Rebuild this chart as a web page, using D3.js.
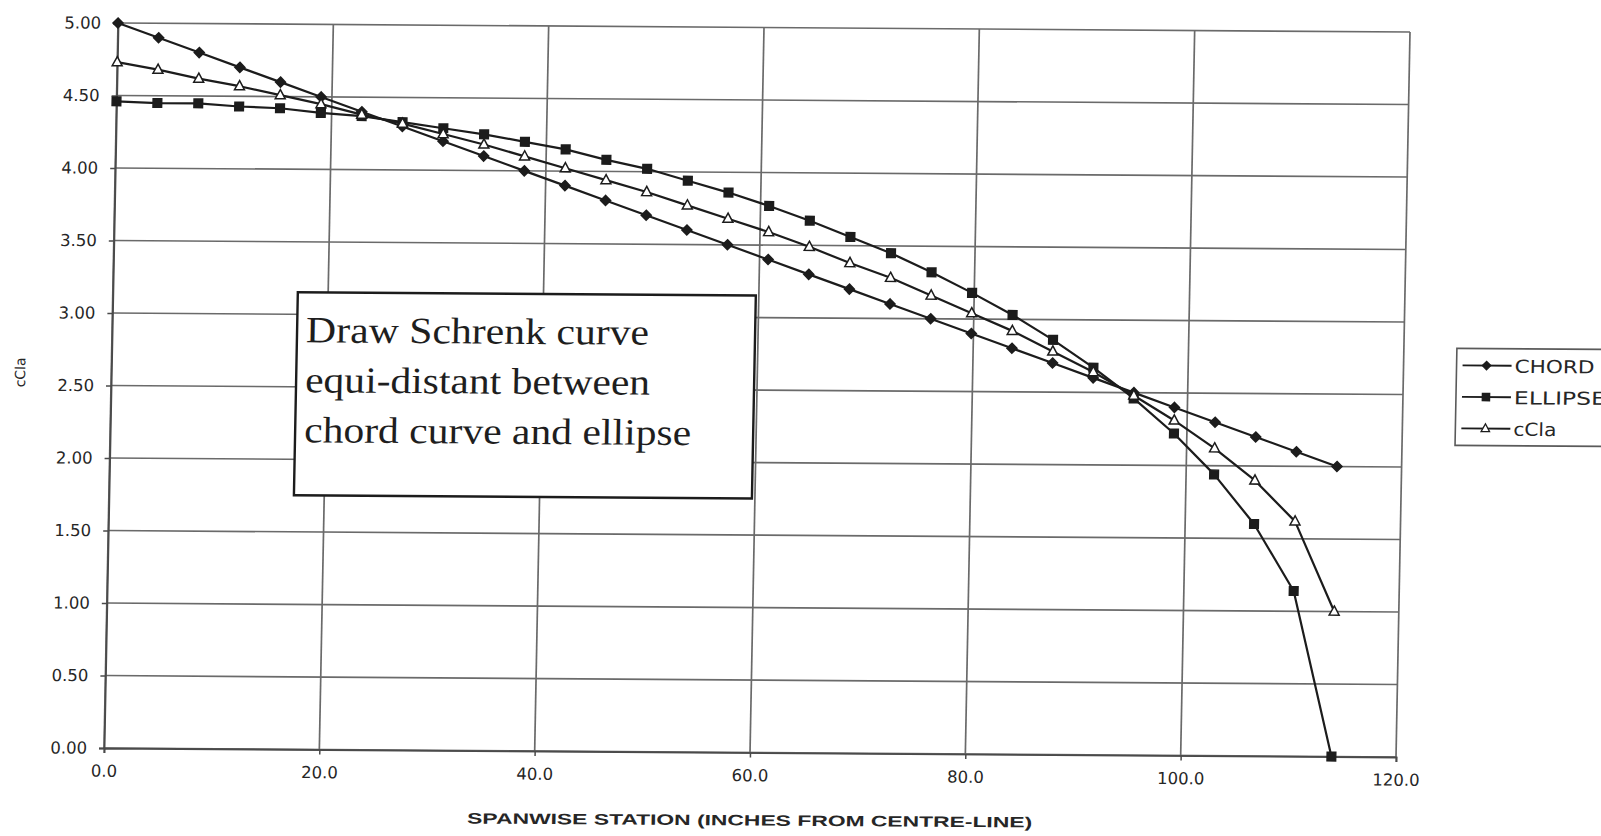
<!DOCTYPE html>
<html>
<head>
<meta charset="utf-8">
<script src="https://cdn.jsdelivr.net/npm/d3@7"></script>
<style>
  html, body { margin: 0; padding: 0; background: #fff; overflow: hidden; }
  svg { display: block; }
</style>
</head>
<body>
<svg id="chart" width="1601" height="836"></svg>
<script>
// Spanwise stations (inches from centre-line)
const stations = [0.0, 3.8, 7.6, 11.4, 15.2, 19.0, 22.8, 26.6, 30.4, 34.2, 38.0, 41.8, 45.6, 49.4, 53.2,
                  57.0, 60.8, 64.6, 68.4, 72.2, 76.0, 79.8, 83.6, 87.4, 91.2, 95.0, 98.8, 102.6, 106.4, 110.2, 114.0];
// Chord distribution
const chord = [5.00, 4.90, 4.80, 4.70, 4.60, 4.50, 4.40, 4.30, 4.20, 4.10, 4.00, 3.90, 3.80, 3.70, 3.60,
               3.50, 3.40, 3.30, 3.20, 3.10, 3.00, 2.90, 2.80, 2.70, 2.60, 2.50, 2.40, 2.30, 2.20, 2.10, 2.00];
// Elliptical distribution of equal area
const ellipse = [4.46, 4.45, 4.45, 4.43, 4.42, 4.39, 4.37, 4.33, 4.29, 4.25, 4.20, 4.15, 4.08, 4.02, 3.94,
                 3.86, 3.77, 3.67, 3.56, 3.45, 3.32, 3.18, 3.03, 2.86, 2.67, 2.46, 2.22, 1.94, 1.60, 1.14, 0.00];
// Schrenk cCla curve
const ccla = [4.73, 4.68, 4.62, 4.57, 4.51, 4.45, 4.38, 4.32, 4.25, 4.18, 4.10, 4.02, 3.94, 3.86, 3.77,
              3.68, 3.59, 3.49, 3.38, 3.28, 3.16, 3.04, 2.92, 2.78, 2.64, 2.48, 2.31, 2.12, 1.90, 1.62, 1.00];

const seriesNames = ["CHORD", "ELLIPSE", "cCla"];
const xTicks = [0, 20, 40, 60, 80, 100, 120];
const yTicks = [0, 0.5, 1.0, 1.5, 2.0, 2.5, 3.0, 3.5, 4.0, 4.5, 5.0];
const xTitle = "SPANWISE STATION (INCHES FROM CENTRE-LINE)";
const yTitle = "cCla";
const noteLines = ["Draw Schrenk curve", "equi-distant between", "chord curve and ellipse"];

const W = 1292, H = 725;
const ink = "#1c1c1c";
const gridColor = "#6a6a6a";

const svg = d3.select("#chart");
svg.append("rect").attr("width", 1601).attr("height", 836).attr("fill", "#fff");

// the sheet sits slightly askew
const g = svg.append("g").attr("transform", "matrix(1,0.00697,-0.0193,1,118,23)");

const x = d3.scaleLinear().domain([0, 120]).range([0, W]);
const y = d3.scaleLinear().domain([0, 5]).range([H, 0]);

// grid
g.append("g").selectAll("line").data(yTicks).join("line")
  .attr("x1", 0).attr("x2", W)
  .attr("y1", d => y(d)).attr("y2", d => y(d))
  .attr("stroke", gridColor).attr("stroke-width", 1.7);
g.append("g").selectAll("line").data(xTicks).join("line")
  .attr("x1", d => x(d)).attr("x2", d => x(d))
  .attr("y1", 0).attr("y2", H)
  .attr("stroke", gridColor).attr("stroke-width", 1.7);

// axes
const yAxis = g.append("g")
  .call(d3.axisLeft(y).tickValues(yTicks).tickFormat(d3.format(".2f")).tickSize(5).tickPadding(12));
const xAxis = g.append("g").attr("transform", `translate(0,${H})`)
  .call(d3.axisBottom(x).tickValues(xTicks).tickFormat(d3.format(".1f")).tickSize(5).tickPadding(12));
[yAxis, xAxis].forEach(a => {
  a.select(".domain").attr("stroke", "#4a4a4a").attr("stroke-width", 1.9);
  a.selectAll(".tick line").attr("stroke", "#4a4a4a").attr("stroke-width", 1.5);
  a.selectAll(".tick text")
    .attr("fill", "#262626")
    .style("font-family", "'DejaVu Sans', sans-serif")
    .style("font-size", "16.5px");
});

// axis titles
g.append("text")
  .attr("x", 647).attr("y", 798)
  .attr("text-anchor", "middle")
  .attr("textLength", 565).attr("lengthAdjust", "spacingAndGlyphs")
  .attr("fill", "#262626")
  .style("font-family", "'Liberation Sans', Arial, sans-serif")
  .style("font-weight", "bold")
  .style("font-size", "15px")
  .text(xTitle);

g.append("text")
  .attr("transform", "translate(-86,350) rotate(-90)")
  .attr("text-anchor", "middle")
  .attr("fill", "#262626")
  .style("font-family", "'DejaVu Sans', sans-serif")
  .style("font-size", "14px")
  .text(yTitle);

// series
const data = [chord, ellipse, ccla].map(vals => stations.map((s, i) => ({ x: s, v: vals[i] })));
const line = d3.line().x(d => x(d.x)).y(d => y(d.v));

const markers = [
  { path: "M0,-5L5,0L0,5L-5,0Z", fill: ink },
  { path: "M-4.3,-4.3H4.3V4.3H-4.3Z", fill: ink },
  { path: "M0,-5.6L5,3.6H-5Z", fill: "#fff" }
];

data.forEach((pts, k) => {
  const sg = g.append("g");
  sg.append("path").datum(pts)
    .attr("d", line)
    .attr("fill", "none")
    .attr("stroke", ink)
    .attr("stroke-width", 2.2)
    .attr("stroke-linejoin", "round");
  sg.selectAll("path.mk").data(pts).join("path")
    .attr("class", "mk")
    .attr("d", markers[k].path)
    .attr("transform", d => `translate(${x(d.x)},${y(d.v)})`)
    .attr("fill", markers[k].fill)
    .attr("stroke", ink)
    .attr("stroke-width", 1.5);
});

// note box
const note = g.append("g");
note.append("rect")
  .attr("x", 185).attr("y", 268).attr("width", 458).attr("height", 203)
  .attr("fill", "#fff").attr("stroke", ink).attr("stroke-width", 2.4);
const noteWidths = [343, 345, 387];
note.selectAll("text").data(noteLines).join("text")
  .attr("x", 194)
  .attr("y", (d, i) => 318 + i * 50)
  .attr("textLength", (d, i) => noteWidths[i])
  .attr("lengthAdjust", "spacingAndGlyphs")
  .attr("fill", "#1e1e1e")
  .style("font-family", "'Liberation Serif', 'Times New Roman', serif")
  .style("font-size", "37px")
  .text(d => d);

// legend
const legend = g.append("g").attr("transform", "translate(1345,316)");
legend.append("rect")
  .attr("x", 0).attr("y", 0).attr("width", 260).attr("height", 97)
  .attr("fill", "#fff").attr("stroke", "#5a5a5a").attr("stroke-width", 1.6);
const legendWidths = [80, 92, 43];
seriesNames.forEach((name, k) => {
  const ly = 17 + k * 31.5;
  const row = legend.append("g").attr("transform", `translate(0,${ly})`);
  row.append("line").attr("x1", 6).attr("x2", 55).attr("y1", 0).attr("y2", 0)
    .attr("stroke", ink).attr("stroke-width", 1.8);
  row.append("path").attr("d", markers[k].path)
    .attr("transform", "translate(30,0) scale(0.85)")
    .attr("fill", markers[k].fill).attr("stroke", ink).attr("stroke-width", 1.5);
  row.append("text")
    .attr("x", 58).attr("y", 7)
    .attr("textLength", legendWidths[k]).attr("lengthAdjust", "spacingAndGlyphs")
    .attr("fill", "#262626")
    .style("font-family", "'DejaVu Sans', sans-serif")
    .style("font-size", "18px")
    .text(name);
});
</script>
</body>
</html>
